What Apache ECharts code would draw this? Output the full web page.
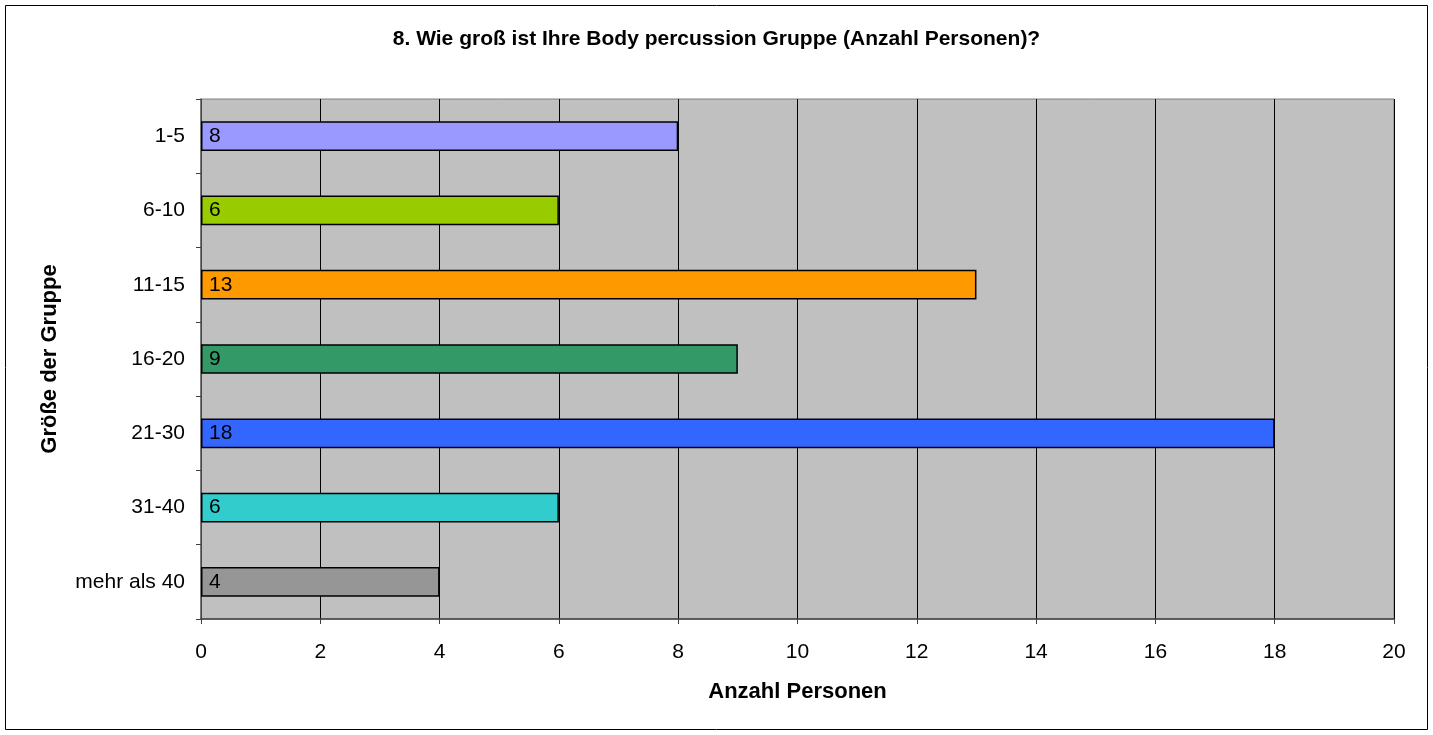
<!DOCTYPE html>
<html><head><meta charset="utf-8">
<script src="https://cdn.jsdelivr.net/npm/echarts@6/dist/echarts.min.js"></script>
<style>html,body{margin:0;padding:0;background:#fff}#c{width:1433px;height:735px}</style>
</head><body><div id="c"></div>
<script>
const categories = ['1-5','6-10','11-15','16-20','21-30','31-40','mehr als 40'];
const values = [8, 6, 13, 9, 18, 6, 4];
const barColors = ['#9999FF','#99CC00','#FF9900','#339966','#3366FF','#33CCCC','#969696'];
const xTicks = [0,2,4,6,8,10,12,14,16,18,20];
const FONT = '"Liberation Sans", Arial, sans-serif';
const chart = echarts.init(document.getElementById('c'));
chart.setOption({
  animation: false,
  backgroundColor: '#fff',
  title: {
    text: '8. Wie groß ist Ihre Body percussion Gruppe (Anzahl Personen)?',
    left: 'center', top: 24,
    textStyle: {fontFamily: FONT, fontSize: 21, fontWeight: 'bold', color: '#000'}
  },
  graphic: [{
    type: 'rect', shape: {x: 5.5, y: 5.5, width: 1422, height: 724},
    style: {fill: 'none', stroke: '#000', lineWidth: 1}, silent: true, z: 100
  }],
  grid: {left: 201, right: 39, top: 99, bottom: 116, show: true, backgroundColor: '#C0C0C0', borderColor: '#808080', borderWidth: 1},
  xAxis: {
    type: 'value', min: 0, max: 20, interval: 2,
    name: 'Anzahl Personen', nameLocation: 'middle', nameGap: 62,
    nameTextStyle: {fontFamily: FONT, fontSize: 22, fontWeight: 'bold', color: '#000'},
    axisLine: {show: true, lineStyle: {color: '#404040', width: 1.5}},
    axisTick: {show: true, length: 5, lineStyle: {color: '#404040'}},
    axisLabel: {fontFamily: FONT, fontSize: 21, color: '#000', margin: 23,
      formatter: v => xTicks.includes(v) ? String(v) : ''},
    splitLine: {show: true, lineStyle: {color: '#000', width: 1}}
  },
  yAxis: {
    type: 'category', data: categories, inverse: true,
    name: 'Größe der Gruppe', nameLocation: 'middle', nameGap: 140, nameRotate: 90,
    nameTextStyle: {fontFamily: FONT, fontSize: 22, fontWeight: 'bold', color: '#000'},
    axisLine: {show: true, lineStyle: {color: '#606060', width: 1.5}},
    axisTick: {show: true, length: 5, lineStyle: {color: '#404040'}},
    axisLabel: {fontFamily: FONT, fontSize: 21, color: '#000', margin: 16},
    splitLine: {show: false}
  },
  series: [{
    type: 'bar',
    data: values.map((v, i) => ({value: v, itemStyle: {color: barColors[i]}})),
    barCategoryGap: '60%',
    itemStyle: {borderColor: '#000', borderWidth: 1.5},
    label: {show: true, position: 'insideLeft', distance: 8, fontFamily: FONT, fontSize: 21, color: '#000'}
  }]
});
</script>
</body></html>
